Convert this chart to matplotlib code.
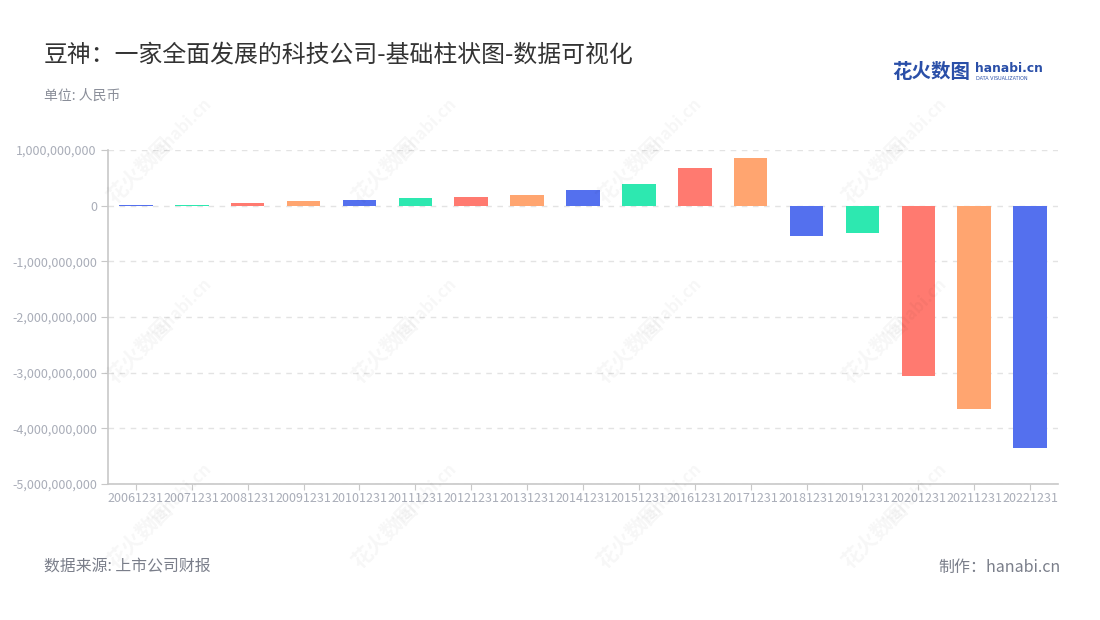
import matplotlib
matplotlib.use("Agg")
import matplotlib.pyplot as plt
from matplotlib.ticker import FuncFormatter

plt.rcParams['font.family'] = ['Noto Sans CJK SC', 'DejaVu Sans']

categories = ["20061231", "20071231", "20081231", "20091231", "20101231", "20111231",
              "20121231", "20131231", "20141231", "20151231", "20161231", "20171231",
              "20181231", "20191231", "20201231", "20211231", "20221231"]
values = [2.0e7, 1.0e7, 4.0e7, 8.0e7, 1.0e8, 1.38e8, 1.56e8, 1.92e8, 2.75e8, 3.95e8,
          6.77e8, 8.5e8, -5.45e8, -4.9e8, -3.06e9, -3.66e9, -4.35e9]
palette = ["#5470ee", "#2de8b0", "#ff7a70", "#ffa570"]
yticks = [1e9, 0, -1e9, -2e9, -3e9, -4e9, -5e9]

fig = plt.figure(figsize=(11, 6.2), dpi=100)
ax = fig.add_axes([108/1100, 1-484/620, 950/1100, 334/620])

x = list(range(len(categories)))
colors = [palette[i % 4] for i in x]
ax.bar(x, values, width=0.6, color=colors, zorder=3)

ax.set_xlim(-0.5, len(categories) - 0.5)
ax.set_ylim(-5e9, 1e9)
ax.set_yticks(yticks)
ax.yaxis.set_major_formatter(FuncFormatter(lambda v, p: f"{int(v):,}"))
ax.set_xticks(x)
ax.set_xticklabels(categories)
ax.tick_params(axis='x', colors='#c8c8c8', labelcolor='#a9adb8', labelsize=9, length=4, pad=2)
ax.tick_params(axis='y', colors='#c8c8c8', labelcolor='#a9adb8', labelsize=9, length=5, pad=3)
ax.grid(axis='y', linestyle=(0, (4, 4)), color='#e3e3e3', linewidth=1, zorder=0)
for s in ['top', 'right']:
    ax.spines[s].set_visible(False)
for s in ['left', 'bottom']:
    ax.spines[s].set_color('#c8c8c8')
    ax.spines[s].set_linewidth(1.2)

# watermarks
for wx in [150, 395, 640, 885]:
    for wy in [150, 330, 515]:
        fig.text((wx - 10) / 1100, 1 - (wy + 20) / 620, "花火数图", rotation=45, fontsize=15,
                 color='#000000', alpha=0.035, ha='center', va='center', fontweight='bold')
        fig.text((wx + 30) / 1100, 1 - (wy - 20) / 620, "hanabi.cn", rotation=45, fontsize=12,
                 color='#000000', alpha=0.035, ha='center', va='center', fontweight='bold')

fig.text(44/1100, 1 - 55/620, "豆神：一家全面发展的科技公司-基础柱状图-数据可视化",
         fontsize=17.2, color='#333333', ha='left', va='center')
fig.text(44/1100, 1 - 96/620, "单位: 人民币", fontsize=10, color='#8a8e99', ha='left', va='center')
fig.text(44/1100, 1 - 567/620, "数据来源: 上市公司财报", fontsize=11.4, color='#7a7e8a', ha='left', va='center')
fig.text(1061/1100, 1 - 567/620, "制作：hanabi.cn", fontsize=11.5, color='#7a7e8a', ha='right', va='center')

# logo
fig.text(892/1100, 1 - 72/620, "花火数图", fontsize=14, color='#2a4fa8', ha='left', va='center',
         fontweight='bold')
fig.text(975/1100, 1 - 69/620, "hanabi.cn", fontsize=8.8, color='#2a4fa8', ha='left', va='center',
         fontweight='bold', family='DejaVu Sans')
fig.text(976/1100, 1 - 79/620, "DATA VISUALIZATION", fontsize=3.5, color='#2a4fa8', ha='left',
         va='center', family='DejaVu Sans')

fig.savefig("out.png", dpi=100)
